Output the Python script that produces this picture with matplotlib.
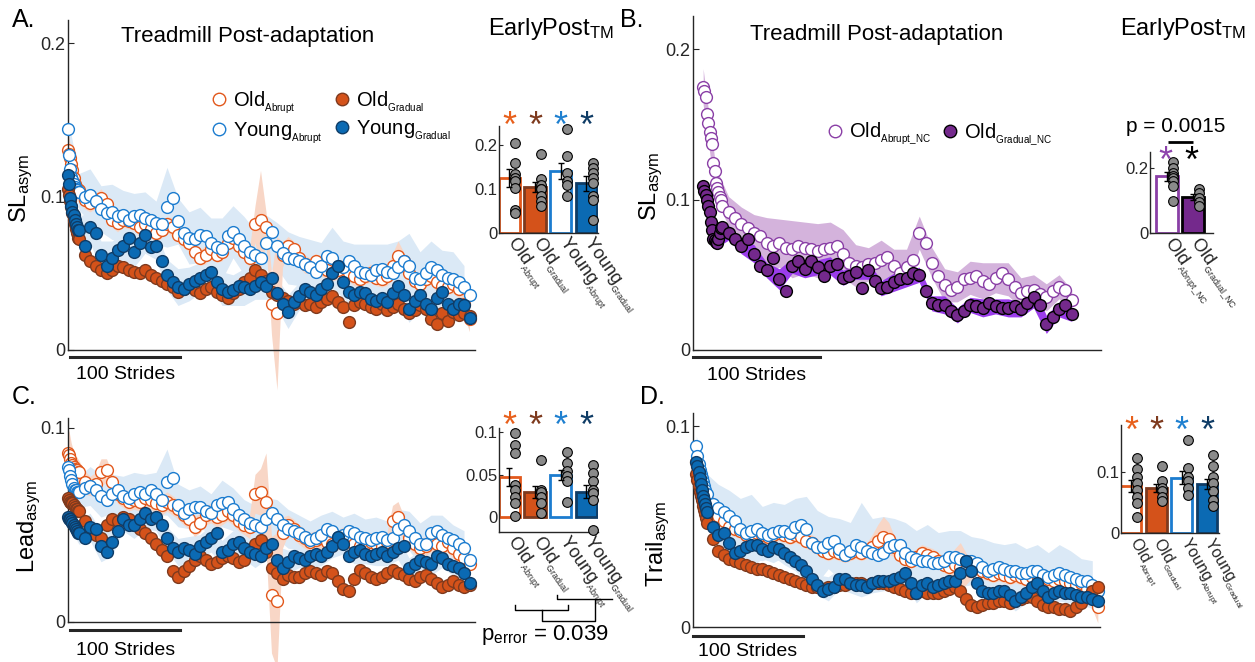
import numpy as np
import matplotlib
matplotlib.use("Agg")
import matplotlib.pyplot as plt
import matplotlib.transforms as mtransforms
from matplotlib import font_manager
from matplotlib.lines import Line2D

W, H = 1255, 662
DPI = 100


def pick_font():
    for name in ["Liberation Sans Narrow", "Liberation Sans", "DejaVu Sans"]:
        try:
            font_manager.findfont(name, fallback_to_default=False)
            return name
        except ValueError:
            pass
    return "DejaVu Sans"


FONT = pick_font()
plt.rcParams.update({
    "font.family": [FONT, "DejaVu Sans"],
    "mathtext.fontset": "custom",
    "mathtext.rm": FONT,
    "mathtext.default": "rm",
    "axes.linewidth": 1.0,
    "axes.edgecolor": "#262626",
    "xtick.color": "#262626",
    "ytick.color": "#262626",
    "text.color": "black",
})

# ---------------- data ----------------
# stride index: every stride at the start, then every 5th
STRIDES = np.r_[0:10, 10:370:5]
BAND_STRIDES = np.arange(0, 370, 10)
STRIDES_B = np.r_[0:15, 15:295:5]
BAND_STRIDES_B = np.arange(0, 295, 10)

# A. SL asym
A_OA = [0.130, 0.128, 0.125, 0.121, 0.117, 0.112, 0.108, 0.106, 0.105, 0.104,
        0.104, 0.098, 0.096, 0.097, 0.099, 0.095, 0.085, 0.083, 0.085, 0.084,
        0.083, 0.080, 0.082, 0.079, 0.076, 0.078, 0.082, 0.080, 0.075, 0.072,
        0.070, 0.064, 0.060, 0.062, 0.066, 0.062, 0.064, 0.070, 0.073, 0.068,
        0.064, 0.060, 0.082, 0.085, 0.080, 0.030, 0.024, 0.062, 0.068, 0.066,
        0.060, 0.056, 0.055, 0.058, 0.054, 0.052, 0.050, 0.052, 0.054, 0.050,
        0.048, 0.046, 0.048, 0.050, 0.047, 0.046, 0.048, 0.055, 0.061, 0.058,
        0.050, 0.045, 0.043, 0.046, 0.048, 0.044, 0.042, 0.041, 0.043, 0.040,
        0.030, 0.020]
A_YA = [0.144, 0.127, 0.118, 0.113, 0.111, 0.108, 0.106, 0.105, 0.104, 0.103,
        0.103, 0.100, 0.101, 0.097, 0.092, 0.089, 0.090, 0.087, 0.088, 0.085,
        0.087, 0.088, 0.086, 0.085, 0.083, 0.082, 0.093, 0.099, 0.084, 0.076,
        0.073, 0.072, 0.075, 0.074, 0.070, 0.067, 0.066, 0.074, 0.077, 0.072,
        0.068, 0.064, 0.062, 0.060, 0.070, 0.077, 0.068, 0.063, 0.060, 0.059,
        0.058, 0.056, 0.054, 0.051, 0.055, 0.061, 0.060, 0.055, 0.054, 0.058,
        0.055, 0.051, 0.050, 0.049, 0.052, 0.053, 0.051, 0.050, 0.054, 0.058,
        0.055, 0.047, 0.046, 0.050, 0.054, 0.052, 0.049, 0.047, 0.046, 0.044,
        0.041, 0.036]
A_OG = [0.105, 0.101, 0.097, 0.093, 0.089, 0.085, 0.082, 0.079, 0.076, 0.073,
        0.072, 0.062, 0.058, 0.055, 0.052, 0.050, 0.052, 0.055, 0.054, 0.052,
        0.051, 0.050, 0.052, 0.049, 0.047, 0.045, 0.043, 0.041, 0.038, 0.040,
        0.042, 0.039, 0.037, 0.040, 0.041, 0.038, 0.036, 0.034, 0.037, 0.040,
        0.044, 0.047, 0.052, 0.049, 0.045, 0.038, 0.036, 0.034, 0.032, 0.030,
        0.031, 0.029, 0.030, 0.028, 0.031, 0.033, 0.035, 0.031, 0.028, 0.018,
        0.029, 0.031, 0.030, 0.028, 0.027, 0.030, 0.026, 0.028, 0.030, 0.027,
        0.024, 0.026, 0.029, 0.027, 0.020, 0.017, 0.024, 0.019, 0.025, 0.023,
        0.024, 0.022]
A_YG = [0.114, 0.108, 0.099, 0.094, 0.090, 0.088, 0.085, 0.082, 0.080, 0.078,
        0.078, 0.068, 0.080, 0.076, 0.062, 0.055, 0.060, 0.065, 0.068, 0.073,
        0.064, 0.070, 0.075, 0.067, 0.068, 0.058, 0.049, 0.044, 0.041, 0.040,
        0.043, 0.045, 0.047, 0.049, 0.051, 0.044, 0.040, 0.038, 0.039, 0.042,
        0.041, 0.040, 0.042, 0.044, 0.042, 0.047, 0.037, 0.030, 0.025, 0.031,
        0.035, 0.040, 0.038, 0.036, 0.040, 0.043, 0.050, 0.055, 0.044, 0.038,
        0.036, 0.038, 0.037, 0.033, 0.032, 0.034, 0.031, 0.037, 0.042, 0.036,
        0.027, 0.032, 0.036, 0.030, 0.027, 0.034, 0.038, 0.030, 0.027, 0.030,
        0.029, 0.021]
A_OA_SEM = [0.010, 0.010, 0.009, 0.009, 0.008, 0.008, 0.008, 0.007, 0.007, 0.007,
            0.007, 0.006, 0.006, 0.005, 0.006, 0.005, 0.005, 0.006, 0.005, 0.005,
            0.005, 0.006, 0.005, 0.005, 0.006, 0.005, 0.005, 0.006, 0.005, 0.005,
            0.006, 0.005, 0.005, 0.006, 0.005, 0.005, 0.006, 0.005, 0.005, 0.006,
            0.005, 0.006, 0.012, 0.032, 0.010, 0.020, 0.050, 0.008, 0.006, 0.005,
            0.005, 0.006, 0.005, 0.005, 0.006, 0.005, 0.005, 0.006, 0.005, 0.005,
            0.006, 0.005, 0.005, 0.006, 0.005, 0.005, 0.006, 0.008, 0.010, 0.006,
            0.005, 0.005, 0.006, 0.005, 0.005, 0.006, 0.005, 0.005, 0.006, 0.006,
            0.008, 0.008]
A_YA_SEM = [0.006, 0.012, 0.017, 0.015, 0.018, 0.016, 0.015, 0.017, 0.014, 0.026,
            0.015, 0.017, 0.018, 0.016, 0.020, 0.017, 0.019, 0.016, 0.018, 0.015,
            0.017, 0.016, 0.018, 0.015, 0.020, 0.017, 0.014, 0.019, 0.017, 0.018,
            0.017, 0.021, 0.018, 0.017, 0.016, 0.018, 0.014]
A_YG_SEM = [0.005, 0.009, 0.010, 0.009, 0.011, 0.009, 0.010, 0.012, 0.009, 0.010,
            0.012, 0.011, 0.010, 0.009, 0.011, 0.010, 0.012, 0.009, 0.009, 0.010,
            0.011, 0.009, 0.010, 0.009, 0.009, 0.010, 0.009, 0.009, 0.008, 0.009,
            0.009, 0.009, 0.010, 0.009, 0.008, 0.009, 0.007]

# B. SL asym, no-catch groups
B_OA = [0.175, 0.172, 0.168, 0.157, 0.151, 0.145, 0.141, 0.137, 0.124, 0.119,
        0.111, 0.108, 0.105, 0.102, 0.100,
        0.096, 0.092, 0.088, 0.084, 0.081, 0.078, 0.076, 0.071, 0.069, 0.071,
        0.068, 0.067, 0.069, 0.068, 0.067, 0.066, 0.067, 0.068, 0.069, 0.064,
        0.058, 0.056, 0.055, 0.057, 0.058, 0.060, 0.062, 0.056, 0.051, 0.055,
        0.060, 0.078, 0.071, 0.058, 0.049, 0.043, 0.040, 0.042, 0.047, 0.048,
        0.049, 0.046, 0.044, 0.048, 0.051, 0.047, 0.042, 0.038, 0.039, 0.040,
        0.037, 0.035, 0.039, 0.042, 0.040, 0.033]
B_OG = [0.109, 0.106, 0.103, 0.100, 0.096, 0.092, 0.085, 0.080, 0.074, 0.073,
        0.072, 0.071, 0.074, 0.078, 0.081,
        0.082, 0.078, 0.074, 0.069, 0.074, 0.064, 0.056, 0.053, 0.061, 0.047,
        0.039, 0.056, 0.059, 0.054, 0.059, 0.055, 0.049, 0.056, 0.057, 0.048,
        0.049, 0.052, 0.041, 0.053, 0.046, 0.041, 0.042, 0.045, 0.047, 0.048,
        0.051, 0.050, 0.039, 0.031, 0.030, 0.030, 0.026, 0.023, 0.026, 0.030,
        0.029, 0.028, 0.031, 0.029, 0.028, 0.028, 0.029, 0.027, 0.031, 0.035,
        0.030, 0.017, 0.022, 0.027, 0.030, 0.024]
B_OA_SEM = [0.012, 0.010, 0.010, 0.011, 0.012, 0.017, 0.016, 0.019, 0.017, 0.018,
            0.017, 0.016, 0.014, 0.011, 0.013, 0.011, 0.012, 0.011, 0.010, 0.011,
            0.010, 0.011, 0.012, 0.010, 0.011, 0.010, 0.010, 0.009, 0.008, 0.007]
B_OG_SEM = [0.003, 0.004, 0.005, 0.005, 0.006, 0.005, 0.007, 0.005, 0.006, 0.005,
            0.006, 0.005, 0.005, 0.006, 0.005, 0.006, 0.006, 0.005, 0.005, 0.006,
            0.005, 0.005, 0.006, 0.005, 0.006, 0.005, 0.007, 0.006, 0.005, 0.005]

# C. Lead asym
C_OA = [0.087, 0.086, 0.084, 0.082, 0.081, 0.080, 0.079, 0.078, 0.078, 0.077,
        0.077, 0.072, 0.070, 0.071, 0.077, 0.078, 0.072, 0.066, 0.064, 0.062,
        0.063, 0.062, 0.064, 0.063, 0.061, 0.060, 0.062, 0.060, 0.058, 0.055,
        0.053, 0.049, 0.051, 0.055, 0.056, 0.054, 0.055, 0.057, 0.055, 0.052,
        0.050, 0.049, 0.066, 0.067, 0.062, 0.014, 0.011, 0.046, 0.050, 0.048,
        0.045, 0.043, 0.041, 0.042, 0.043, 0.041, 0.040, 0.042, 0.044, 0.042,
        0.040, 0.039, 0.040, 0.041, 0.040, 0.039, 0.041, 0.052, 0.054, 0.049,
        0.043, 0.040, 0.038, 0.039, 0.041, 0.040, 0.039, 0.041, 0.038, 0.035,
        0.033, 0.030]
C_YA = [0.080, 0.078, 0.075, 0.073, 0.071, 0.069, 0.068, 0.068, 0.067, 0.067,
        0.067, 0.069, 0.070, 0.068, 0.065, 0.063, 0.066, 0.068, 0.065, 0.064,
        0.066, 0.067, 0.066, 0.068, 0.066, 0.063, 0.072, 0.074, 0.060, 0.056,
        0.058, 0.059, 0.059, 0.057, 0.056, 0.060, 0.061, 0.062, 0.058, 0.055,
        0.053, 0.051, 0.050, 0.049, 0.053, 0.056, 0.053, 0.050, 0.048, 0.047,
        0.046, 0.044, 0.042, 0.043, 0.045, 0.048, 0.047, 0.044, 0.045, 0.047,
        0.046, 0.044, 0.043, 0.042, 0.043, 0.044, 0.042, 0.043, 0.048, 0.050,
        0.047, 0.043, 0.040, 0.040, 0.046, 0.047, 0.045, 0.043, 0.042, 0.040,
        0.038, 0.032]
C_OG = [0.064, 0.063, 0.062, 0.061, 0.061, 0.060, 0.059, 0.058, 0.058, 0.057,
        0.057, 0.052, 0.048, 0.045, 0.043, 0.050, 0.053, 0.052, 0.054, 0.053,
        0.050, 0.048, 0.046, 0.043, 0.040, 0.037, 0.034, 0.026, 0.023, 0.026,
        0.029, 0.032, 0.034, 0.032, 0.030, 0.031, 0.033, 0.034, 0.033, 0.031,
        0.032, 0.036, 0.040, 0.042, 0.036, 0.028, 0.025, 0.022, 0.024, 0.023,
        0.023, 0.025, 0.026, 0.025, 0.024, 0.026, 0.025, 0.021, 0.017, 0.016,
        0.022, 0.027, 0.025, 0.023, 0.022, 0.023, 0.025, 0.027, 0.025, 0.024,
        0.022, 0.021, 0.023, 0.024, 0.022, 0.020, 0.018, 0.019, 0.021, 0.019,
        0.018, 0.019]
C_YG = [0.054, 0.053, 0.053, 0.052, 0.051, 0.050, 0.049, 0.048, 0.047, 0.046,
        0.046, 0.043, 0.049, 0.048, 0.039, 0.036, 0.041, 0.047, 0.053, 0.050,
        0.050, 0.053, 0.056, 0.053, 0.054, 0.050, 0.043, 0.038, 0.036, 0.038,
        0.037, 0.035, 0.039, 0.041, 0.043, 0.046, 0.036, 0.037, 0.040, 0.041,
        0.038, 0.036, 0.035, 0.034, 0.038, 0.040, 0.032, 0.028, 0.031, 0.034,
        0.033, 0.032, 0.034, 0.035, 0.034, 0.036, 0.039, 0.044, 0.040, 0.034,
        0.036, 0.037, 0.035, 0.034, 0.035, 0.036, 0.034, 0.036, 0.038, 0.039,
        0.028, 0.030, 0.032, 0.031, 0.030, 0.034, 0.033, 0.030, 0.029, 0.028,
        0.025, 0.020]
C_OA_SEM = [0.012, 0.012, 0.011, 0.010, 0.009, 0.008, 0.008, 0.007, 0.007, 0.007,
            0.006, 0.006, 0.005, 0.006, 0.007, 0.006, 0.005, 0.005, 0.005, 0.005,
            0.005, 0.005, 0.005, 0.005, 0.005, 0.005, 0.005, 0.005, 0.005, 0.005,
            0.005, 0.005, 0.005, 0.005, 0.005, 0.005, 0.005, 0.005, 0.005, 0.005,
            0.005, 0.006, 0.010, 0.012, 0.025, 0.030, 0.035, 0.008, 0.005, 0.005,
            0.005, 0.005, 0.005, 0.005, 0.005, 0.005, 0.005, 0.005, 0.005, 0.005,
            0.005, 0.005, 0.005, 0.005, 0.005, 0.005, 0.005, 0.008, 0.008, 0.006,
            0.005, 0.005, 0.005, 0.005, 0.005, 0.005, 0.005, 0.005, 0.005, 0.005,
            0.006, 0.006]
C_YA_SEM = [0.005, 0.008, 0.010, 0.011, 0.010, 0.010, 0.011, 0.010, 0.011, 0.017,
            0.011, 0.010, 0.011, 0.010, 0.012, 0.011, 0.010, 0.010, 0.011, 0.010,
            0.010, 0.009, 0.010, 0.010, 0.010, 0.009, 0.010, 0.010, 0.011, 0.010,
            0.010, 0.010, 0.011, 0.009, 0.010, 0.008, 0.009]
C_YG_SEM = [0.004, 0.006, 0.007, 0.008, 0.007, 0.006, 0.007, 0.008, 0.007, 0.006,
            0.007, 0.007, 0.006, 0.007, 0.006, 0.007, 0.006, 0.007, 0.006, 0.007,
            0.006, 0.005, 0.006, 0.005, 0.006, 0.005, 0.006, 0.005, 0.006, 0.005,
            0.006, 0.005, 0.005, 0.006, 0.005, 0.005, 0.004]

# D. Trail asym
D_OA = [0.082, 0.080, 0.078, 0.076, 0.074, 0.072, 0.070, 0.068, 0.066, 0.064,
        0.063, 0.058, 0.055, 0.053, 0.050, 0.049, 0.048, 0.046, 0.045, 0.047,
        0.046, 0.045, 0.046, 0.047, 0.046, 0.045, 0.046, 0.045, 0.043, 0.042,
        0.040, 0.038, 0.037, 0.038, 0.037, 0.036, 0.037, 0.038, 0.037, 0.038,
        0.040, 0.043, 0.045, 0.044, 0.040, 0.036, 0.034, 0.033, 0.035, 0.037,
        0.036, 0.035, 0.033, 0.031, 0.030, 0.031, 0.030, 0.029, 0.028, 0.027,
        0.028, 0.027, 0.026, 0.027, 0.026, 0.025, 0.026, 0.025, 0.024, 0.025,
        0.026, 0.025, 0.024, 0.023, 0.024, 0.023, 0.022, 0.021, 0.022, 0.019,
        0.015, 0.010]
D_YA = [0.090, 0.085, 0.081, 0.078, 0.076, 0.074, 0.072, 0.070, 0.068, 0.066,
        0.066, 0.061, 0.059, 0.057, 0.055, 0.053, 0.049, 0.047, 0.048, 0.049,
        0.047, 0.046, 0.047, 0.048, 0.048, 0.047, 0.050, 0.051, 0.049, 0.042,
        0.040, 0.040, 0.042, 0.043, 0.039, 0.036, 0.038, 0.041, 0.040, 0.038,
        0.037, 0.036, 0.037, 0.040, 0.041, 0.041, 0.037, 0.035, 0.034, 0.033,
        0.033, 0.032, 0.032, 0.033, 0.035, 0.035, 0.034, 0.033, 0.033, 0.032,
        0.030, 0.028, 0.029, 0.030, 0.029, 0.028, 0.028, 0.027, 0.027, 0.028,
        0.028, 0.026, 0.025, 0.026, 0.027, 0.026, 0.025, 0.024, 0.023, 0.023,
        0.021, 0.018]
D_OG = [0.076, 0.073, 0.070, 0.067, 0.065, 0.063, 0.060, 0.058, 0.056, 0.054,
        0.052, 0.044, 0.038, 0.036, 0.034, 0.033, 0.032, 0.031, 0.030, 0.029,
        0.029, 0.028, 0.027, 0.026, 0.025, 0.024, 0.023, 0.022, 0.021, 0.020,
        0.020, 0.019, 0.020, 0.020, 0.021, 0.021, 0.022, 0.022, 0.022, 0.021,
        0.022, 0.022, 0.022, 0.021, 0.020, 0.019, 0.018, 0.017, 0.017, 0.018,
        0.017, 0.017, 0.017, 0.018, 0.019, 0.020, 0.018, 0.014, 0.011, 0.010,
        0.011, 0.012, 0.012, 0.013, 0.013, 0.012, 0.013, 0.014, 0.015, 0.015,
        0.013, 0.011, 0.010, 0.010, 0.009, 0.009, 0.008, 0.010, 0.012, 0.015,
        0.018, 0.020]
D_YG = [0.082, 0.080, 0.077, 0.074, 0.071, 0.068, 0.065, 0.063, 0.061, 0.059,
        0.057, 0.050, 0.046, 0.047, 0.042, 0.037, 0.038, 0.040, 0.041, 0.041,
        0.039, 0.038, 0.040, 0.039, 0.037, 0.035, 0.033, 0.031, 0.028, 0.024,
        0.021, 0.018, 0.019, 0.020, 0.024, 0.024, 0.022, 0.021, 0.021, 0.020,
        0.022, 0.023, 0.023, 0.023, 0.024, 0.025, 0.027, 0.022, 0.017, 0.021,
        0.022, 0.020, 0.021, 0.022, 0.023, 0.023, 0.027, 0.033, 0.028, 0.022,
        0.018, 0.017, 0.017, 0.018, 0.018, 0.016, 0.013, 0.015, 0.017, 0.020,
        0.022, 0.018, 0.015, 0.017, 0.018, 0.017, 0.017, 0.016, 0.015, 0.015,
        0.014, 0.013]
D_OA_SEM = [0.006, 0.006, 0.006, 0.005, 0.005, 0.005, 0.005, 0.005, 0.005, 0.005,
            0.004, 0.004, 0.004, 0.004, 0.004, 0.004, 0.004, 0.004, 0.004, 0.004,
            0.004, 0.004, 0.004, 0.004, 0.004, 0.004, 0.004, 0.004, 0.004, 0.004,
            0.004, 0.004, 0.004, 0.004, 0.004, 0.004, 0.004, 0.004, 0.004, 0.004,
            0.006, 0.008, 0.010, 0.008, 0.005, 0.004, 0.004, 0.004, 0.004, 0.004,
            0.004, 0.004, 0.004, 0.004, 0.004, 0.008, 0.012, 0.008, 0.004, 0.004,
            0.004, 0.004, 0.004, 0.004, 0.004, 0.004, 0.004, 0.004, 0.004, 0.004,
            0.004, 0.004, 0.004, 0.004, 0.004, 0.004, 0.004, 0.004, 0.004, 0.004,
            0.006, 0.008]
D_YA_SEM = [0.005, 0.010, 0.012, 0.013, 0.015, 0.018, 0.013, 0.015, 0.013, 0.014,
            0.016, 0.018, 0.013, 0.015, 0.014, 0.022, 0.017, 0.018, 0.013, 0.015,
            0.014, 0.018, 0.015, 0.013, 0.014, 0.012, 0.014, 0.013, 0.012, 0.014,
            0.012, 0.013, 0.012, 0.014, 0.013, 0.011, 0.012]
D_YG_SEM = [0.005, 0.007, 0.007, 0.006, 0.006, 0.007, 0.006, 0.005, 0.006, 0.005,
            0.006, 0.005, 0.006, 0.005, 0.005, 0.006, 0.005, 0.005, 0.005, 0.005,
            0.005, 0.005, 0.005, 0.005, 0.005, 0.005, 0.005, 0.005, 0.005, 0.005,
            0.005, 0.005, 0.005, 0.005, 0.005, 0.005, 0.004]

# EarlyPost bar insets: group means, sem and individual subjects
GROUP_LABELS = [r"Old$_{_{Abrupt}}$", r"Old$_{_{Gradual}}$",
                r"Young$_{_{Abrupt}}$", r"Young$_{_{Gradual}}$"]
NC_LABELS = [r"Old$_{_{Abrupt\_NC}}$", r"Old$_{_{Gradual\_NC}}$"]

A_BAR = [0.125, 0.104, 0.141, 0.113]
A_BAR_SEM = [0.020, 0.012, 0.018, 0.017]
A_SUBJ = [[0.205, 0.160, 0.135, 0.125, 0.118, 0.103, 0.053, 0.046],
          [0.180, 0.122, 0.110, 0.100, 0.099, 0.084, 0.072, 0.061],
          [0.237, 0.175, 0.137, 0.118, 0.110, 0.084],
          [0.160, 0.148, 0.137, 0.125, 0.114, 0.084, 0.076, 0.030]]

B_BAR = [0.174, 0.110]
B_BAR_SEM = [0.015, 0.010]
B_SUBJ = [[0.217, 0.200, 0.185, 0.175, 0.169, 0.159, 0.146, 0.097],
          [0.135, 0.123, 0.108, 0.094, 0.082]]

C_BAR = [0.047, 0.029, 0.049, 0.030]
C_BAR_SEM = [0.011, 0.007, 0.006, 0.008]
C_SUBJ = [[0.099, 0.085, 0.075, 0.038, 0.032, 0.024, 0.016, 0.001],
          [0.067, 0.032, 0.030, 0.024, 0.016, 0.005],
          [0.077, 0.064, 0.054, 0.048, 0.042, 0.018],
          [0.061, 0.052, 0.042, 0.032, 0.028, 0.020, -0.015]]

D_BAR = [0.078, 0.074, 0.091, 0.081]
D_BAR_SEM = [0.010, 0.006, 0.011, 0.008]
D_SUBJ = [[0.124, 0.105, 0.093, 0.082, 0.071, 0.060, 0.049, 0.027],
          [0.110, 0.085, 0.074, 0.069, 0.060, 0.052],
          [0.154, 0.107, 0.093, 0.085, 0.074, 0.063],
          [0.129, 0.110, 0.093, 0.082, 0.069, 0.055, 0.044]]

SCALE_STRIDES = 100

# ---------------- style ----------------
ORANGE = "#E2581C"
ORANGE_FILL = "#D4521A"
ORANGE_DARK = "#7E3A1E"
BLUE = "#1C7CCF"
BLUE_FILL = "#0B6AB3"
NAVY = "#0F3C66"
PURPLE = "#8A3FA6"
PURPLE_FILL = "#74298C"

MARKERS = {
    "OA": dict(mfc="white", mec=ORANGE, zorder=2),
    "YA": dict(mfc="white", mec=BLUE, zorder=3),
    "OG": dict(mfc=ORANGE_FILL, mec=ORANGE_DARK, zorder=4),
    "YG": dict(mfc=BLUE_FILL, mec=NAVY, zorder=5),
}
BAND_COLORS = {"OA": "#F8D6C6", "YA": "#DBE9F6", "YG": "#DBE9F6"}

fig = plt.figure(figsize=(W / DPI, H / DPI), dpi=DPI)


def px_axes(l, t, r, b):
    return fig.add_axes([l / W, 1 - b / H, (r - l) / W, (b - t) / H])


def ftext(x, y, s, **kw):
    return fig.text(x / W, 1 - y / H, s, **kw)


def fline(xs, ys, **kw):
    kw.setdefault("color", "black")
    kw.setdefault("lw", 1.0)
    fig.add_artist(Line2D([x / W for x in xs], [1 - y / H for y in ys],
                          transform=fig.transFigure, **kw))


def style_main(ax, ylim, yticks, yticklabels, ylabel, label_xy):
    ax.set_ylim(*ylim)
    ax.set_yticks(yticks)
    ax.set_yticklabels(yticklabels, fontsize=13)
    ax.set_xticks([])
    ax.tick_params(axis="y", direction="in", length=4, pad=2)
    for s in ("top", "right"):
        ax.spines[s].set_visible(False)
    ax.set_ylabel(ylabel, fontsize=17)
    ax.yaxis.set_label_coords(*label_xy)


def scale_bar(ax, x0, y_bar, y_text):
    tr = mtransforms.blended_transform_factory(ax.transData, ax.transAxes)
    ax.plot([x0, x0 + SCALE_STRIDES], [y_bar, y_bar], color="#262626", lw=2.2,
            transform=tr, clip_on=False)
    ax.text(x0 + SCALE_STRIDES / 2, y_text, f"{SCALE_STRIDES} Strides", transform=tr,
            ha="center", va="center", fontsize=14)


def main_panel(ax, series, sems):
    mask = np.isin(STRIDES, BAND_STRIDES)
    for key in ("YA", "YG"):
        m = np.asarray(series[key])[mask]
        sem = np.asarray(sems[key])
        ax.fill_between(BAND_STRIDES, m - sem, m + sem, color=BAND_COLORS[key],
                        lw=0, zorder=1, clip_on=False)
    m = np.asarray(series["OA"])
    sem = np.asarray(sems["OA"])
    ax.fill_between(STRIDES, m - sem, m + sem, color=BAND_COLORS["OA"], lw=0,
                    zorder=1.2, clip_on=False)
    for key in ("OA", "YA", "OG", "YG"):
        ax.plot(STRIDES, series[key], ls="none", marker="o", ms=8.5, mew=1.0,
                clip_on=False, **MARKERS[key])
    ax.set_xlim(0, 370)


def bar_inset(ax, means, sems, subj, faces, edges, labels, ylim, yticks,
              yticklabels, star_colors, star_y, label_size=13, label_rot=-55):
    pos = np.arange(1, len(means) + 1)
    ax.bar(pos, means, width=0.82, color=faces, edgecolor=edges, linewidth=2.0,
           zorder=2)
    for p, vals in zip(pos, subj):
        ax.plot(np.full(len(vals), p + 0.24), vals, ls="none", marker="o", ms=7,
                mfc="#8a8a8a", mec="black", mew=0.8, zorder=3, clip_on=False)
    ax.errorbar(pos, means, yerr=sems, fmt="none", ecolor="black", elinewidth=1.0,
                capsize=2.5, capthick=1.0, zorder=4)
    ax.set_ylim(*ylim)
    ax.set_yticks(yticks)
    ax.set_yticklabels(yticklabels, fontsize=12)
    ax.tick_params(axis="y", direction="in", length=3, pad=1)
    ax.set_xticks(pos)
    ax.set_xticklabels(labels, rotation=label_rot, ha="left", va="center",
                       rotation_mode="anchor", fontsize=label_size)
    ax.tick_params(axis="x", length=0, pad=5)
    for s in ("top", "right"):
        ax.spines[s].set_visible(False)
    if star_colors:
        tr = mtransforms.blended_transform_factory(ax.transData, ax.transAxes)
        for p, c in zip(pos, star_colors):
            ax.text(p, star_y, "*", color=c, transform=tr, ha="center",
                    va="center", fontsize=26)
    return pos


STAR_COLORS = ["#E8601C", ORANGE_DARK, "#1F80D0", NAVY]

# ---------------- panel A ----------------
axA = px_axes(68, 20, 475, 350)
main_panel(axA, {"OA": A_OA, "YA": A_YA, "OG": A_OG, "YG": A_YG},
           {"YA": A_YA_SEM, "YG": A_YG_SEM, "OA": A_OA_SEM})
style_main(axA, (0, 0.215), [0, 0.1, 0.2], ["0", "0.1", "0.2"],
           r"SL$_{asym}$", (-0.08, 0.49))
scale_bar(axA, 2, -0.02, -0.075)

handles = [Line2D([], [], ls="none", marker="o", ms=9, mew=1.0,
                  mfc=MARKERS[k]["mfc"], mec=MARKERS[k]["mec"])
           for k in ("OA", "YA", "OG", "YG")]
axA.legend(handles, [r"Old$_{_{Abrupt}}$", r"Young$_{_{Abrupt}}$",
                     r"Old$_{_{Gradual}}$", r"Young$_{_{Gradual}}$"],
           ncol=2, loc="upper left", bbox_to_anchor=(0.318, 0.82), frameon=False,
           fontsize=14.5, handletextpad=0.15, columnspacing=0.45, labelspacing=0.2,
           borderpad=0, handlelength=1.1)

axAi = px_axes(499, 126, 598, 233)
bar_inset(axAi, A_BAR, A_BAR_SEM, A_SUBJ,
          ["white", ORANGE_FILL, "white", BLUE_FILL],
          [ORANGE, ORANGE_DARK, BLUE, NAVY], GROUP_LABELS,
          (0, 0.243), [0, 0.1, 0.2], ["0", "0.1", "0.2"], STAR_COLORS, 0.985)
axAi.set_xlim(0.6, 4.45)

# ---------------- panel B ----------------
axB = px_axes(693, 16, 1101, 350)
maskB = np.isin(STRIDES_B, BAND_STRIDES_B)
mOA = np.asarray(B_OA)[maskB]
mOG = np.asarray(B_OG)[maskB]
axB.fill_between(BAND_STRIDES_B, mOA - np.asarray(B_OA_SEM), mOA + np.asarray(B_OA_SEM),
                 color="#D4B3DC", lw=0, zorder=1)
axB.fill_between(BAND_STRIDES_B, mOG - np.asarray(B_OG_SEM), mOG + np.asarray(B_OG_SEM),
                 color="#9B3DEB", lw=0, zorder=1.5)
axB.plot(STRIDES_B, B_OA, ls="none", marker="o", ms=8.5, mew=1.0, mfc="white",
         mec=PURPLE, zorder=2, clip_on=False)
axB.plot(STRIDES_B, B_OG, ls="none", marker="o", ms=8.5, mew=1.0, mfc=PURPLE_FILL,
         mec="black", zorder=3, clip_on=False)
axB.set_xlim(-8, 313)
style_main(axB, (0, 0.222), [0, 0.1, 0.2], ["0", "0.1", "0.2"],
           r"SL$_{asym}$", (-0.068, 0.49))
scale_bar(axB, -8, -0.02, -0.075)
hB = [Line2D([], [], ls="none", marker="o", ms=9, mew=1.0, mfc="white", mec=PURPLE),
      Line2D([], [], ls="none", marker="o", ms=9, mew=1.0, mfc=PURPLE_FILL, mec="black")]
axB.legend(hB, [r"Old$_{_{Abrupt\_NC}}$", r"Old$_{_{Gradual\_NC}}$"], ncol=2,
           loc="upper left", bbox_to_anchor=(0.295, 0.715), frameon=False,
           fontsize=14.5, handletextpad=0.15, columnspacing=0.4, borderpad=0,
           handlelength=1.1)

axBi = px_axes(1150, 152, 1213, 233)
bar_inset(axBi, B_BAR, B_BAR_SEM, B_SUBJ, ["white", PURPLE_FILL], [PURPLE, "black"],
          NC_LABELS, (0, 0.249), [0, 0.2], ["0", "0.2"], None, 1.0)
axBi.set_xlim(0.35, 2.77)
fline([1168, 1193], [142, 142], solid_capstyle="butt", lw=2.0)
ftext(1165, 162, "*", color="#8E44AD", ha="center", va="center", fontsize=26)
ftext(1191, 162, "*", color="black", ha="center", va="center", fontsize=26)
ftext(1176, 132, "p = 0.0015", ha="center", va="baseline", fontsize=15)

# ---------------- panel C ----------------
axC = px_axes(68, 418, 475, 622)
main_panel(axC, {"OA": C_OA, "YA": C_YA, "OG": C_OG, "YG": C_YG},
           {"YA": C_YA_SEM, "YG": C_YG_SEM, "OA": C_OA_SEM})
style_main(axC, (0, 0.105), [0, 0.1], ["0", "0.1"], r"Lead$_{asym}$",
           (-0.062, 0.47))
scale_bar(axC, 2, -0.04, -0.14)

axCi = px_axes(499, 428, 598, 532)
bar_inset(axCi, C_BAR, C_BAR_SEM, C_SUBJ,
          ["white", ORANGE_FILL, "white", BLUE_FILL],
          [ORANGE, ORANGE_DARK, BLUE, NAVY], GROUP_LABELS,
          (-0.0176, 0.1047), [0, 0.05, 0.1], ["0", "0.05", "0.1"], STAR_COLORS, 1.005)
axCi.set_xlim(0.6, 4.45)

# comparison brackets under the C inset
fline([515, 515, 568, 568], [605, 610, 610, 605])
fline([542, 542, 595, 595], [610, 621, 621, 599])
fline([557, 557, 612], [595, 599, 599])
ftext(545, 640, r"p$_{error}$ = 0.039", ha="center", va="baseline", fontsize=16)

# ---------------- panel D ----------------
axD = px_axes(693, 413, 1100, 627)
main_panel(axD, {"OA": D_OA, "YA": D_YA, "OG": D_OG, "YG": D_YG},
           {"YA": D_YA_SEM, "YG": D_YG_SEM, "OA": D_OA_SEM})
axD.set_xlim(-3, 367)
style_main(axD, (0, 0.1065), [0, 0.1], ["0", "0.1"], r"Trail$_{asym}$",
           (-0.052, 0.39))
scale_bar(axD, -3, -0.04, -0.115)

axDi = px_axes(1121, 425, 1219, 533)
bar_inset(axDi, D_BAR, D_BAR_SEM, D_SUBJ,
          ["white", ORANGE_FILL, "white", BLUE_FILL],
          [ORANGE, ORANGE_DARK, BLUE, NAVY], GROUP_LABELS,
          (0, 0.178), [0, 0.1], ["0", "0.1"], STAR_COLORS, 0.93,
          label_size=11.5, label_rot=-60)
axDi.set_xlim(0.61, 4.47)

# ---------------- titles and panel letters ----------------
ftext(248, 42, "Treadmill Post-adaptation", ha="center", va="baseline", fontsize=16)
ftext(877, 40, "Treadmill Post-adaptation", ha="center", va="baseline", fontsize=16)
ftext(551, 35, r"EarlyPost$_{TM}$", ha="center", va="baseline", fontsize=17)
ftext(1183, 35, r"EarlyPost$_{TM}$", ha="center", va="baseline", fontsize=17)
for x, y, s in [(12, 27, "A."), (620, 27, "B."), (12, 404, "C."), (640, 404, "D.")]:
    ftext(x, y, s, ha="left", va="baseline", fontsize=18)

fig.savefig("out.png", dpi=DPI)
